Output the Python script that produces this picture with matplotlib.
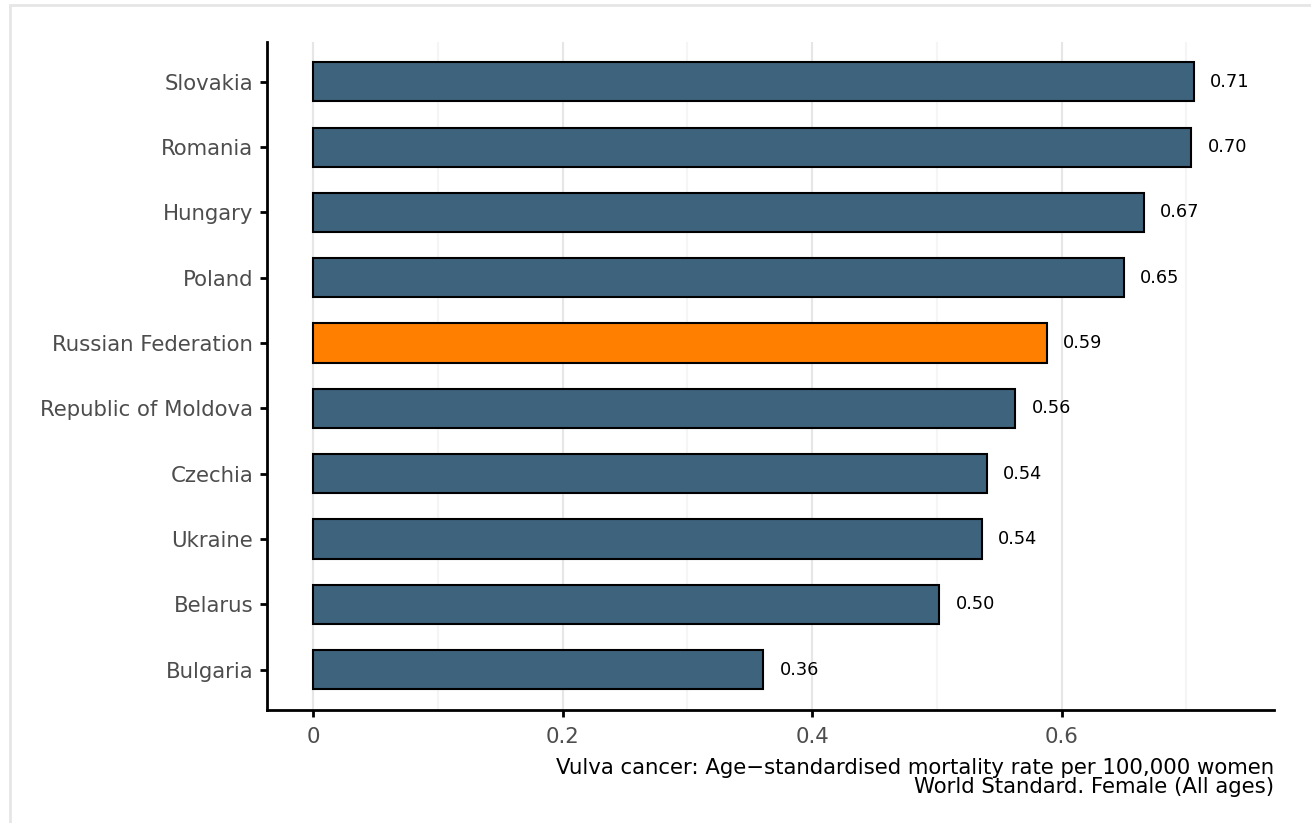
import matplotlib
matplotlib.use("Agg")
import matplotlib.pyplot as plt
from matplotlib.patches import Rectangle
from matplotlib.ticker import MultipleLocator

# data (bottom to top)
countries = ["Bulgaria", "Belarus", "Ukraine", "Czechia", "Republic of Moldova",
             "Russian Federation", "Poland", "Hungary", "Romania", "Slovakia"]
values = [0.361, 0.502, 0.536, 0.540, 0.563, 0.588, 0.650, 0.666, 0.704, 0.706]
labels = ["0.36", "0.50", "0.54", "0.54", "0.56", "0.59", "0.65", "0.67", "0.70", "0.71"]
highlight = "Russian Federation"

W, H = 1311, 823
fig = plt.figure(figsize=(W / 100, H / 100), dpi=100)
ax = fig.add_axes([267 / W, 1 - 710 / H, (1274 - 267) / W, (710 - 42) / H])

# light border around the plot area (only left/top edges visible)
fig.patches.append(Rectangle((9.5 / W, -0.5), 1.5, 1.5 - 4.5 / H, transform=fig.transFigure,
                             fill=False, edgecolor="#e6e6e6", linewidth=2))

colors = ["#ff7f00" if c == highlight else "#3e637c" for c in countries]
y = list(range(len(countries)))
ax.barh(y, values, height=0.6, color=colors, edgecolor="black", linewidth=1.5, zorder=3)

for yi, v, lab in zip(y, values, labels):
    ax.text(v + 0.013, yi, lab, va="center", ha="left", fontsize=12.8, color="black")

ax.set_xlim(-0.0369, 0.7703)
ax.set_ylim(-0.62, 9.61)
ax.set_yticks(y)
ax.set_yticklabels(countries)
ax.xaxis.set_minor_locator(MultipleLocator(0.1))
ax.set_xticks([0, 0.2, 0.4, 0.6])
ax.set_xticklabels(["0", "0.2", "0.4", "0.6"])

ax.grid(axis="x", which="major", color="#e6e6e6", linewidth=1.5, zorder=0)
ax.grid(axis="x", which="minor", color="#f5f5f5", linewidth=1.5, zorder=0)
ax.tick_params(axis="x", which="minor", length=0)
ax.tick_params(axis="both", which="major", length=5, width=2, colors="black",
               labelcolor="#4d4d4d", labelsize=15.3, pad=5)
ax.tick_params(axis="x", which="major", pad=7)

for s in ["top", "right"]:
    ax.spines[s].set_visible(False)
for s in ["left", "bottom"]:
    ax.spines[s].set_linewidth(2)

ax.set_xlabel("Vulva cancer: Age\u2212standardised mortality rate per 100,000 women\n"
              "World Standard. Female (All ages)",
              fontsize=15.3, ha="right", x=1.0, linespacing=0.95, labelpad=8)

fig.savefig("out.png", dpi=100)
